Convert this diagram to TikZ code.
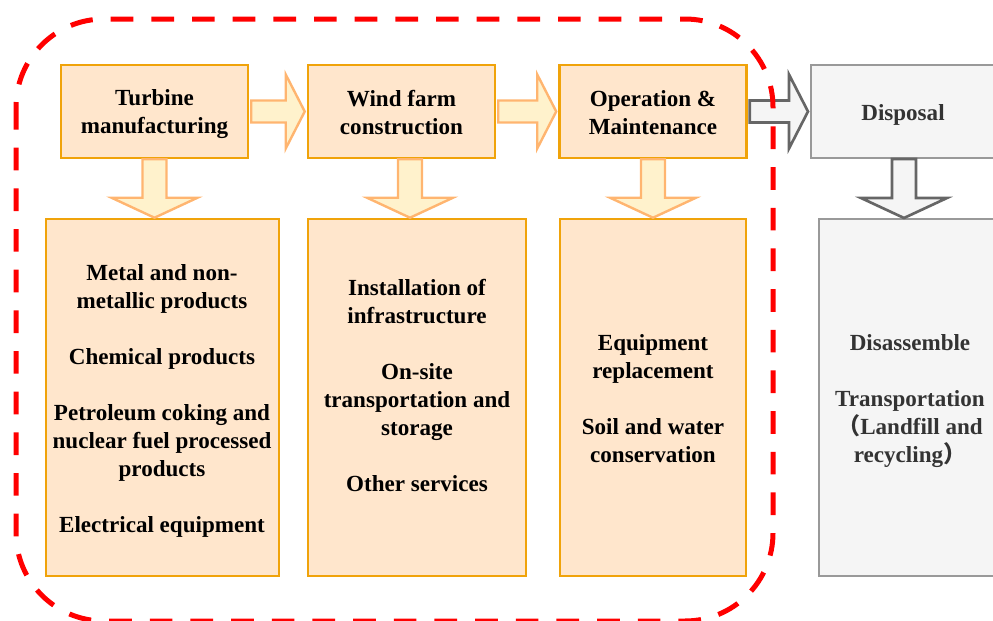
\documentclass[tikz,border=0pt]{standalone}
\usepackage{fontspec}
\setmainfont{Liberation Serif}
\newfontfamily\cjkfont{Noto Sans CJK SC}
\usetikzlibrary{calc}

\definecolor{boxfill}{HTML}{FFE6CC}
\definecolor{boxline}{HTML}{F0A30A}
\definecolor{arrfill}{HTML}{FFF2CC}
\definecolor{arrline}{HTML}{FFB570}
\definecolor{grayfill}{HTML}{F5F5F5}
\definecolor{grayline}{HTML}{999999}
\definecolor{grayarr}{HTML}{666666}
\definecolor{graytext}{HTML}{333333}
\definecolor{lifered}{HTML}{FF0000}

% block arrow pointing right, from the east side of #2 to the west side of #3
\newcommand\rightblock[3]{%
  \draw[#1] ($(#2.east)+(2,-11)$) -- ($(#3.west)+(-21,-11)$) -- ($(#3.west)+(-21,-37)$)
    -- ($(#3.west)+(-2,0)$) -- ($(#3.west)+(-21,37)$) -- ($(#3.west)+(-21,11)$)
    -- ($(#2.east)+(2,11)$) -- cycle;}
% block arrow pointing down, from the south side of #2 to the north side of #3
\newcommand\downblock[4]{%
  \draw[#1] let \p1=($(#2.south)+(#4,0)$), \p2=(#3.north) in
    (\x1-9pt,\y1) -- (\x1-9pt,\y2+15pt) -- (\x1-32.25pt,\y2+15pt) -- (\x1,\y2)
    -- (\x1+32.25pt,\y2+15pt) -- (\x1+9pt,\y2+15pt) -- (\x1+9pt,\y1) -- cycle;}

\begin{document}
\begin{tikzpicture}[x=0.75pt,y=-0.75pt,
  txt/.style={font=\fontsize{17.3}{21}\selectfont\bfseries, align=center, inner sep=0pt},
  stage/.style={draw=boxline, fill=boxfill, line width=1.9pt, inner sep=0pt,
    minimum width=140.25pt, minimum height=69.75pt},
  detail/.style={draw=boxline, fill=boxfill, line width=1.9pt, inner sep=0pt,
    minimum height=267.75pt},
  graystage/.style={draw=grayline, fill=grayfill, line width=1.5pt, inner sep=0pt,
    minimum height=69.75pt},
  graydetail/.style={draw=grayline, fill=grayfill, line width=1.5pt, inner sep=0pt,
    minimum height=267.75pt},
  graytxt/.style={txt, text=graytext},
  flowarrow/.style={draw=arrline, fill=arrfill, line width=1.8pt, line join=miter},
  grayarrow/.style={draw=grayarr, fill=grayfill, line width=2pt, line join=miter},
  lifecycle/.style={draw=lifered, line width=3.75pt, dash pattern=on 17pt off 13.5pt,
    rounded corners=66pt}]
\useasboundingbox (0,0) rectangle (993,621);
\clip (0,0) rectangle (993,621);

% stages
\node[stage] (t1) at (154.5,111.5) {};
\node[stage] (t2) at (401.5,111.5) {};
\node[stage] (t3) at (653,111.5) {};
\node[graystage, minimum width=138pt] (t4) at (903,111.5) {};

\node[txt] (t1t) at (154.5,114.5) {Turbine\\manufacturing};
\node[txt] (t2t) at (401.5,112.5) {Wind farm\\construction};
\node[txt] (t3t) at (653,113) {Operation \&\\Maintenance};
\node[graytxt] (t4t) at (903,115) {Disposal};

% details of each stage
\node[detail, minimum width=174.75pt] (b1) at (162.5,397.5) {};
\node[detail, minimum width=163.5pt] (b2) at (417,397.5) {};
\node[detail, minimum width=139.5pt] (b3) at (653,397.5) {};
\node[graydetail, minimum width=136.5pt] (b4) at (910,397.5) {};

\node[txt] (b1t) at (162,400.5) {Metal and non-\\metallic products\\[21pt]Chemical products\\[21pt]Petroleum coking and\\nuclear fuel processed\\products\\[21pt]Electrical equipment};
\node[txt] (b2t) at (417,385) {Installation of\\infrastructure\\[21pt]On-site\\transportation and\\storage\\[21pt]Other services};
\node[txt] (b3t) at (653,399) {Equipment\\replacement\\[21pt]Soil and water\\conservation};
\node[graytxt] (b4t) at (910,401) {Disassemble\\[21pt]Transportation\\{\cjkfont （}Landfill and\\recycling{\cjkfont ）}};

% arrows between stages
\rightblock{flowarrow}{t1}{t2}
\rightblock{flowarrow}{t2}{t3}
\rightblock{grayarrow}{t3}{t4}

% arrows from stages to details
\downblock{flowarrow}{t1}{b1}{0}
\downblock{flowarrow}{t2}{b2}{8.5}
\downblock{flowarrow}{t3}{b3}{0}
\downblock{grayarrow}{t4}{b4}{1}

% dashed boundary around the first three stages
\draw[lifecycle] (16,19) rectangle (773,621);
\end{tikzpicture}
\end{document}
